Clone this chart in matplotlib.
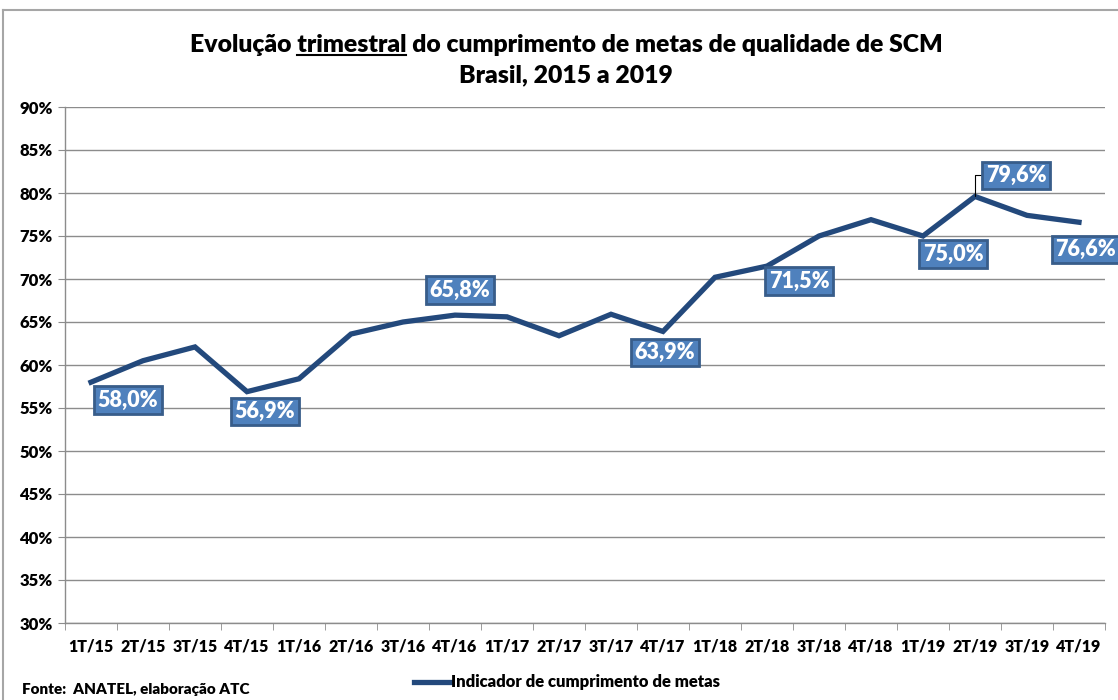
import matplotlib
matplotlib.use("Agg")
import matplotlib.pyplot as plt
from matplotlib.lines import Line2D
from matplotlib.ticker import FixedLocator, PercentFormatter

plt.rcParams['font.family'] = ['Lato', 'DejaVu Sans']

categories = ["1T/15", "2T/15", "3T/15", "4T/15", "1T/16", "2T/16", "3T/16", "4T/16",
              "1T/17", "2T/17", "3T/17", "4T/17", "1T/18", "2T/18", "3T/18", "4T/18",
              "1T/19", "2T/19", "3T/19", "4T/19"]
values = [58.0, 60.5, 62.1, 56.9, 58.4, 63.6, 65.0, 65.8,
          65.6, 63.4, 65.9, 63.9, 70.2, 71.5, 75.0, 76.9,
          75.0, 79.6, 77.4, 76.6]
labeled = ["1T/15", "4T/15", "4T/16", "4T/17", "2T/18", "1T/19", "2T/19", "4T/19"]
# label offsets in pixels (style)
label_offsets = {"1T/15": (37, -18), "4T/15": (18, -20), "4T/16": (5, 25),
                 "4T/17": (2, -21), "2T/18": (32, -15), "1T/19": (30, -18),
                 "2T/19": (41, 21), "4T/19": (7, -27)}
yticks = [30, 35, 40, 45, 50, 55, 60, 65, 70, 75, 80, 85, 90]

W, H = 1118, 700
fig = plt.figure(figsize=(W / 100, H / 100), dpi=100)
ax = fig.add_axes([65 / W, (H - 623) / H, 1040 / W, 516 / H])

x = list(range(len(categories)))
line_color = '#23497C'
ax.plot(x, values, color=line_color, lw=3.8, solid_joinstyle='miter', zorder=3)

ax.set_xlim(-0.5, len(categories) - 0.5)
ax.set_ylim(30, 90)
ax.yaxis.set_major_locator(FixedLocator(yticks))
ax.yaxis.set_major_formatter(PercentFormatter(decimals=0))
ax.grid(axis='y', color='#8C8C8C', lw=1.0)
ax.set_axisbelow(True)
ax.set_xticks(x)
ax.set_xticklabels(categories, fontsize=11.5, fontweight='heavy')
ax.set_xticks([i - 0.5 for i in range(len(categories) + 1)], minor=True)
ax.tick_params(axis='x', which='major', length=0, pad=11)
ax.tick_params(axis='x', which='minor', length=5, color='#8C8C8C', direction='out')
ax.tick_params(axis='y', length=5, color='#8C8C8C', labelsize=12, pad=4)
for lab in ax.get_yticklabels():
    lab.set_fontweight('heavy')
for s in ['top', 'right']:
    ax.spines[s].set_visible(False)
for s in ['left', 'bottom']:
    ax.spines[s].set_color('#8C8C8C')
    ax.spines[s].set_linewidth(1.0)

for cat in labeled:
    i = categories.index(cat)
    v = values[i]
    dx, dy = label_offsets[cat]
    txt = f"{v:.1f}%".replace('.', ',')
    arrow = None
    if cat == "2T/19":
        arrow = dict(arrowstyle='-', color='black', lw=0.8,
                     connectionstyle='angle,angleA=0,angleB=90,rad=0',
                     shrinkA=0, shrinkB=0, relpos=(0, 0.5))
    ax.annotate(txt, xy=(i, v), xytext=(dx, dy), textcoords='offset pixels',
                ha='center', va='center', fontsize=15.5, fontweight='heavy', color='white',
                bbox=dict(boxstyle='square,pad=0.15', fc='#4F81BD', ec='#385D8A', lw=2),
                arrowprops=arrow, zorder=5, annotation_clip=False)

# outer chart border (left and top)
fig.add_artist(Line2D([3 / W, 3 / W], [0, 1 - 10 / H], color='#A6A6A6', lw=1.5,
                      transform=fig.transFigure))
fig.add_artist(Line2D([3 / W, 1], [1 - 10 / H, 1 - 10 / H], color='#A6A6A6', lw=1.5,
                      transform=fig.transFigure))

# title with underlined word
title1 = "Evolução trimestral do cumprimento de metas de qualidade de SCM"
title2 = "Brasil, 2015 a 2019"
tfs = 17.8
cx = 566 / W
t1 = fig.text(cx, 1 - 45 / H, title1, ha='center', va='center', fontsize=tfs, fontweight='heavy')
fig.text(cx, 1 - 75 / H, title2, ha='center', va='center', fontsize=tfs, fontweight='heavy')
fig.canvas.draw()
r = fig.canvas.get_renderer()
bb = t1.get_window_extent(r)
tmp = fig.text(0, 0, "Evolução ", fontsize=tfs, fontweight='heavy')
w_pre = tmp.get_window_extent(r).width
tmp.set_text("Evolução trimestral")
w_word = tmp.get_window_extent(r).width
tmp.remove()
ux0 = (bb.x0 + w_pre) / W
ux1 = (bb.x0 + w_word) / W
uy = (bb.y0 + 1) / H
fig.add_artist(Line2D([ux0, ux1], [uy, uy], color='black', lw=1.5, transform=fig.transFigure))

# footer
fig.text(22 / W, 1 - 690 / H, "Fonte:  ANATEL, elaboração ATC", fontsize=11,
         fontweight='heavy', va='center', ha='left')
fig.add_artist(Line2D([414 / W, 450 / W], [1 - 682 / H, 1 - 682 / H], color=line_color,
                      lw=3.8, transform=fig.transFigure))
fig.text(451 / W, 1 - 682 / H, "Indicador de cumprimento de metas", fontsize=12,
         fontweight='heavy', va='center', ha='left')

fig.savefig("out.png", dpi=100)
